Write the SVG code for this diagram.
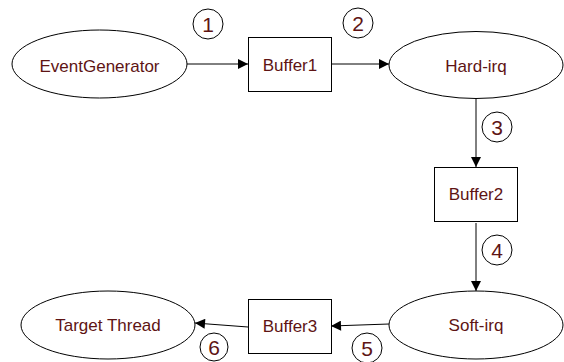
<svg xmlns="http://www.w3.org/2000/svg" width="564" height="362" viewBox="0 0 564 362">
<defs>
<style>
.shape{fill:#fff;stroke:#000;stroke-width:1}
.lbl{font-family:"Liberation Sans",Arial,sans-serif;font-size:17px;fill:#5e1414;text-anchor:middle}
.num{font-family:"Liberation Sans",Arial,sans-serif;font-size:21px;fill:#5e1414;text-anchor:middle}
.edge{stroke:#000;stroke-width:1;fill:none;marker-end:url(#arr)}
.badge{fill:#fff;stroke:#000;stroke-width:1}
</style>
<marker id="arr" viewBox="0 0 10 10" refX="10" refY="5" markerWidth="13" markerHeight="10" markerUnits="userSpaceOnUse" orient="auto">
<path d="M0,0 L10,5 L0,10 z" fill="#000"/>
</marker>
</defs>
<rect width="564" height="362" fill="#fff"/>
<g id="connectors">
<line class="edge" x1="187" y1="64" x2="248" y2="64"/>
<line class="edge" x1="331" y1="64" x2="389" y2="64"/>
<line class="edge" x1="476" y1="99" x2="476" y2="167"/>
<line class="edge" x1="476" y1="223" x2="476" y2="291"/>
<line class="edge" x1="389" y1="324" x2="331" y2="326"/>
<line class="edge" x1="248" y1="327" x2="195" y2="323"/>
<g id="badges">
<circle class="badge" cx="208" cy="24" r="15"/><text class="num" x="208" y="31.5">1</text>
<circle class="badge" cx="358" cy="23" r="15"/><text class="num" x="358" y="30.5">2</text>
<circle class="badge" cx="497" cy="127" r="15"/><text class="num" x="497" y="134.5">3</text>
<circle class="badge" cx="497" cy="250" r="15"/><text class="num" x="497" y="257.5">4</text>
<circle class="badge" cx="367" cy="348" r="15"/><text class="num" x="367" y="355.5">5</text>
<circle class="badge" cx="214" cy="347" r="14"/><text class="num" x="214" y="354.5">6</text>
</g>
</g>
<g id="EventGenerator">
<ellipse class="shape" cx="99.5" cy="64" rx="87.5" ry="34"/>
<text class="lbl" x="99.5" y="71.5">EventGenerator</text>
</g>
<g id="Buffer1">
<rect class="shape" x="248.5" y="37.5" width="83" height="54"/>
<text class="lbl" x="290" y="71">Buffer1</text>
</g>
<g id="Hard-irq">
<ellipse class="shape" cx="476" cy="65" rx="87" ry="33.5"/>
<text class="lbl" x="476" y="72">Hard-irq</text>
</g>
<g id="Buffer2">
<rect class="shape" x="434.5" y="167.5" width="83" height="54"/>
<text class="lbl" x="476" y="199.5">Buffer2</text>
</g>
<g id="Soft-irq">
<ellipse class="shape" cx="476" cy="325" rx="87" ry="34"/>
<text class="lbl" x="476" y="330.5">Soft-irq</text>
</g>
<g id="Buffer3">
<rect class="shape" x="248.5" y="299.5" width="83" height="54"/>
<text class="lbl" x="290" y="332">Buffer3</text>
</g>
<g id="TargetThread">
<ellipse class="shape" cx="108" cy="325" rx="87" ry="34"/>
<text class="lbl" x="108" y="330.5">Target Thread</text>
</g>
</svg>
